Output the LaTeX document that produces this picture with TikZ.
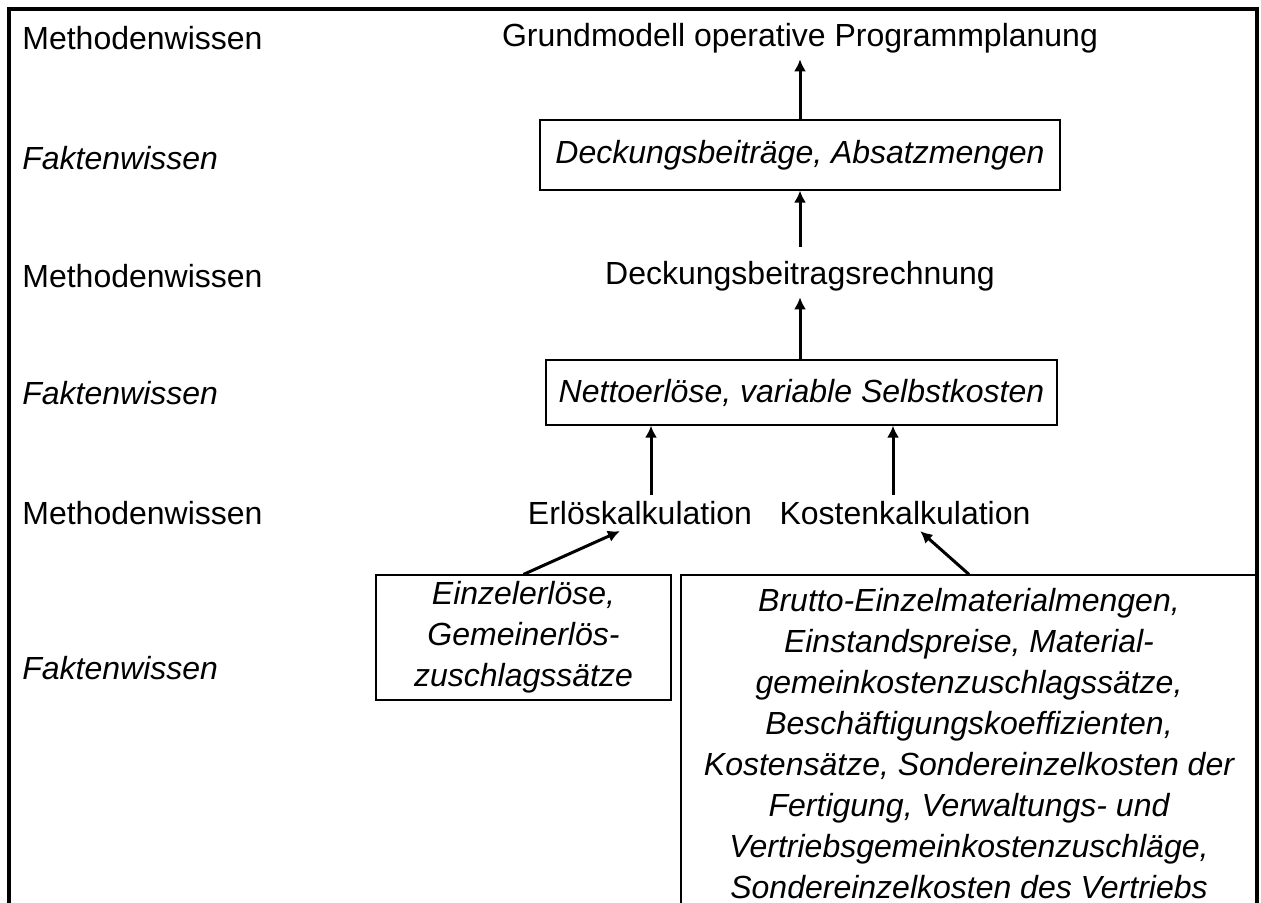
\documentclass[tikz,border=0pt]{standalone}
\usepackage{fontspec}
\setmainfont{Liberation Sans}
\usetikzlibrary{arrows.meta, positioning}
\newcommand{\fsz}{\fontsize{16}{20.5}\selectfont}
\tikzset{%
	lvl/.style={anchor=west, inner sep=0pt},
	fakt/.style={font=\fsz\itshape},
	txt/.style={inner sep=3pt},
	box/.style={draw, line width=0.6pt, align=center, font=\fsz\itshape, inner sep=0pt},
	sel/.style={-{Latex[length=6pt,width=6pt]}, line width=1.5pt},
	frame/.style={line width=1.8pt}
}

\begin{document}
\begin{tikzpicture}[x=0.5pt, y=-0.5pt, font=\fsz]
	\useasboundingbox (0,0) rectangle (1261,903);
	\clip (0,0) rectangle (1261,903);
	\draw[frame] (9,915) -- (9,9) -- (1257,9) -- (1257,915);

	% left column
	\node[lvl] (m1) at (22,38) {Methodenwissen};
	\node[lvl, fakt] (f1) at (22,158) {Faktenwissen};
	\node[lvl] (m2) at (22,276) {Methodenwissen};
	\node[lvl, fakt] (f2) at (22,393) {Faktenwissen};
	\node[lvl] (m3) at (22,513) {Methodenwissen};
	\node[lvl, fakt] (f3) at (22,668) {Faktenwissen};

	% chain
	\node[txt] (grund) at (800,38) {Grundmodell operative Programmplanung};
	\node[box, minimum width=260pt, minimum height=35pt] (db) at (800,155) {Deckungsbeiträge, Absatzmengen};
	\node[txt] (dbr) at (800,276) {Deckungsbeitragsrechnung};
	\node[box, minimum width=255.5pt, minimum height=32.5pt] (net) at (801.5,392.5) {Nettoerlöse, variable Selbstkosten};
	\node[txt] (erl) at (640,513) {Erlöskalkulation};
	\node[txt] (kost) at (905,513) {Kostenkalkulation};
	\node[box, minimum width=147.5pt, minimum height=62.5pt] (eb) at (523.5,637.5) {Einzelerlöse,\\Gemeinerlös-\\zuschlagssätze};
	\node[box, minimum width=288pt, minimum height=169pt] (kb) at (969,744) {Brutto-Einzelmaterialmengen,\\Einstandspreise, Material-\\gemeinkostenzuschlagssätze,\\Beschäftigungskoeffizienten,\\Kostensätze, Sondereinzelkosten der\\Fertigung, Verwaltungs- und\\Vertriebsgemeinkostenzuschläge,\\Sondereinzelkosten des Vertriebs};

	\draw[sel] (db.north) -- (db.north |- grund.south);
	\draw[sel, shorten <=4pt] (dbr.north) -- (db.south);
	\draw[sel] (net.north -| dbr.south) -- (dbr.south);
	\draw[sel] ([xshift=5.5pt]erl.north) -- ([xshift=5.5pt]erl.north |- net.south);
	\draw[sel] ([xshift=-6pt]kost.north) -- ([xshift=-6pt]kost.north |- net.south);
	\draw[sel] (eb.north) -- (erl.222);
	\draw[sel] (kb.north) -- (kost.310);
\end{tikzpicture}
\end{document}
